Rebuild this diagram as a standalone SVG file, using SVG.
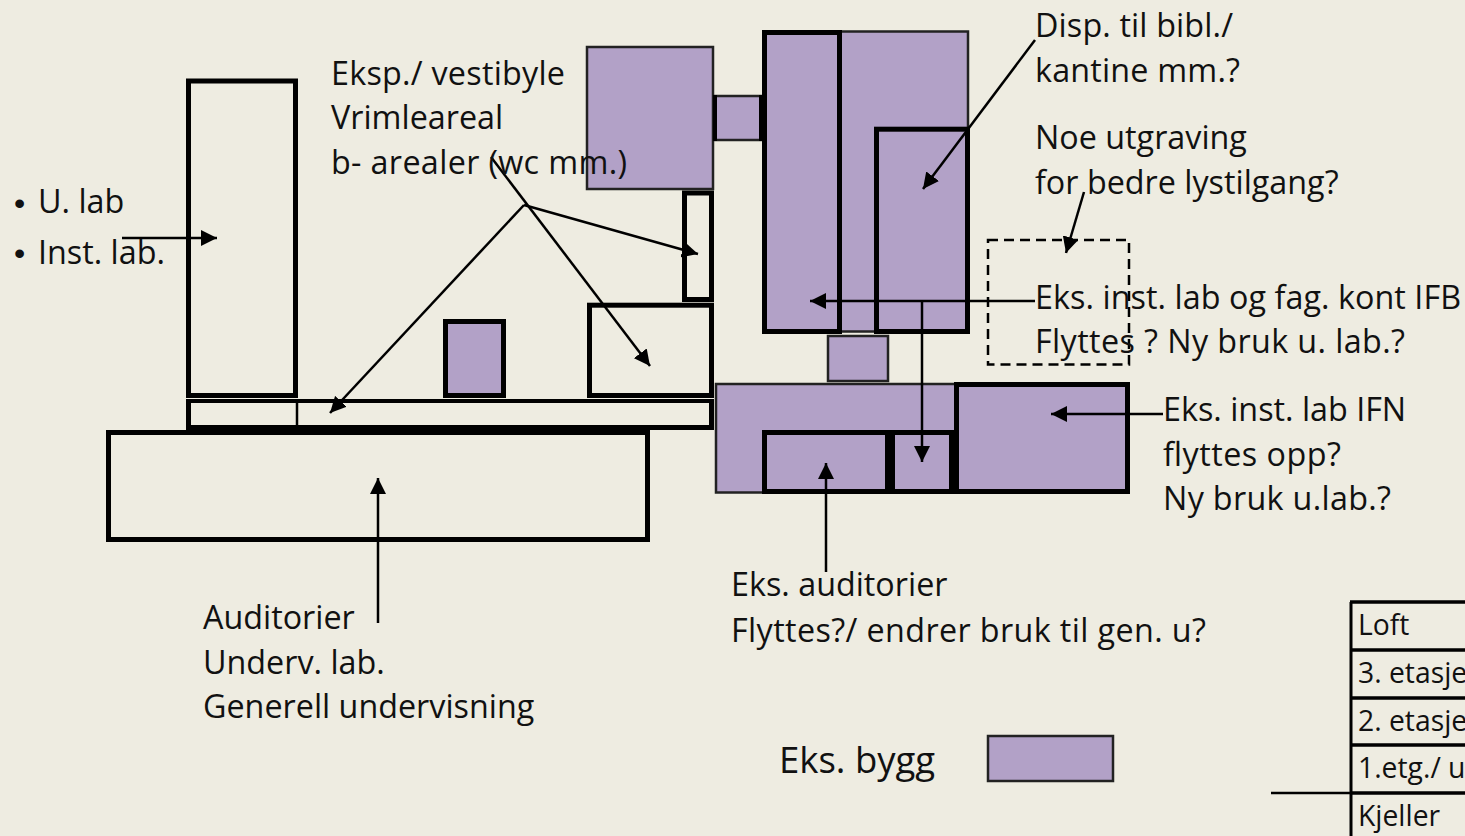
<svg xmlns="http://www.w3.org/2000/svg" width="1465" height="836" viewBox="0 0 1465 836">
<style>
.t{font-family:"Open Sans","Noto Sans",sans-serif;font-size:32.300px;fill:#111}
.s{font-family:"Open Sans","Noto Sans",sans-serif;font-size:28.300px;fill:#111}
.p{fill:#b2a1c7;stroke:#222;stroke-width:2.500}
.pk{fill:#b2a1c7;stroke:#000;stroke-width:5}
.k{fill:none;stroke:#000;stroke-width:5}
.b{fill:#eeece1;stroke:#000;stroke-width:5}
.c{fill:none;stroke:#000;stroke-width:2.500;marker-end:url(#a)}
.l{fill:none;stroke:#000;stroke-width:2.500}
.r{fill:#eeece1;stroke:#000;stroke-width:4}
</style>
<defs><marker id="a" markerUnits="userSpaceOnUse" markerWidth="16" markerHeight="16" refX="16" refY="8" orient="auto"><path d="M0 0L16 8L0 16z" fill="#000"/></marker></defs>
<rect width="1465" height="836" fill="#eeece1"/>
<g id="node-eks-top-left"><rect class="p" x="587" y="47" width="126" height="142"/></g>
<g id="node-link"><rect class="p" x="715" y="96" width="47" height="44"/><path class="l" d="M715 95V141M761 95V141" style="stroke-width:4"/></g>
<g id="node-tower"><rect class="p" x="765" y="31.500" width="203" height="300"/><rect class="pk" x="764.500" y="32.500" width="75" height="299"/><rect class="pk" x="876.500" y="129.200" width="91" height="202.300"/></g>
<g id="node-under"><rect class="p" x="828" y="336" width="60" height="45"/></g>
<g id="node-lower"><rect class="p" x="716" y="384" width="240" height="108.500"/><rect class="pk" x="764.500" y="432.500" width="123" height="59"/><rect class="pk" x="892.500" y="432.500" width="59" height="59"/><path d="M887 462H893M951 462H957" stroke="#000" stroke-width="59" fill="none"/><rect class="pk" x="956.500" y="384.500" width="171" height="107"/></g>
<g id="node-narrow"><rect class="b" x="684.500" y="193" width="27" height="106.500"/></g>
<g id="node-box"><rect class="b" x="589.500" y="305.200" width="122" height="90.300"/></g>
<g id="node-small"><rect class="pk" x="445.500" y="321.500" width="58" height="74"/></g>
<g id="node-tall"><rect class="b" x="188.500" y="81" width="107" height="314.500"/></g>
<g id="node-strip"><rect class="r" x="188" y="401" width="523" height="26"/><path d="M186 427.500H714" class="k"/><path d="M188.500 399V430M711.500 399V430" class="k"/><path d="M297 401V428" class="l"/></g>
<g id="node-auditorium"><rect class="b" x="108.500" y="432.500" width="539" height="107"/></g>
<g id="node-dashed"><rect x="988" y="240" width="141" height="124.500" fill="none" stroke="#000" stroke-width="2.500" stroke-dasharray="10 6"/></g>
<g id="connectors">
<path class="c" d="M122 238H217"/>
<path class="c" d="M1035 40L923 189"/>
<path class="c" d="M1084 192L1066 253"/>
<path class="c" d="M1035 301H810"/>
<path class="c" d="M922 301V462"/>
<path class="c" d="M1163 414H1051"/>
<path class="c" d="M826 572V463"/>
<path class="c" d="M378 623V478"/>
<path class="c" d="M524 205L330 413"/>
<path class="c" d="M524 205L698 254"/>
<path class="c" d="M491 157L650 366"/>
<path class="l" d="M1271 793H1350"/>
</g>
<g id="labels">
<text class="t" x="331" y="85" textLength="234">Eksp./ vestibyle</text>
<text class="t" x="331" y="129">Vrimleareal</text>
<text class="t" x="331" y="174" textLength="296">b- arealer (wc mm.)</text>
<text x="14" y="214" style="font-family:'Liberation Sans',sans-serif;font-size:32px;fill:#111">•</text><text class="t" x="38" y="213">U. lab</text>
<text x="14" y="264" style="font-family:'Liberation Sans',sans-serif;font-size:32px;fill:#111">•</text><text class="t" x="38" y="264">Inst. lab.</text>
<text class="t" x="1035" y="37" textLength="198">Disp. til bibl./</text>
<text class="t" x="1035" y="82" textLength="205">kantine mm.?</text>
<text class="t" x="1035" y="149">Noe utgraving</text>
<text class="t" x="1035" y="194">for bedre lystilgang?</text>
<text class="t" x="1035" y="309" textLength="426">Eks. inst. lab og fag. kont IFB</text>
<text class="t" x="1035" y="353" textLength="370">Flyttes ? Ny bruk u. lab.?</text>
<text class="t" x="1163" y="421">Eks. inst. lab IFN</text>
<text class="t" x="1163" y="466" textLength="178">flyttes opp?</text>
<text class="t" x="1163" y="510" textLength="228">Ny bruk u.lab.?</text>
<text class="t" x="731" y="596">Eks. auditorier</text>
<text class="t" x="731" y="642" textLength="475">Flyttes?/ endrer bruk til gen. u?</text>
<text class="t" x="203" y="629">Auditorier</text>
<text class="t" x="203" y="674">Underv. lab.</text>
<text class="t" x="203" y="718">Generell undervisning</text>
</g>
<g id="legend"><text x="779" y="773" style="font-family:'Open Sans','Noto Sans',sans-serif;font-size:36.500px;fill:#111">Eks. bygg</text><rect class="p" x="988" y="736" width="125" height="45"/></g>
<g id="floors">
<path d="M1351 602V836" class="l" style="stroke-width:3"/>
<path d="M1350 602H1465M1350 650H1465M1350 698H1465M1350 745H1465M1350 793H1465" class="l" style="stroke-width:3.500"/>
<text class="s" x="1358" y="635">Loft</text>
<text class="s" x="1358" y="683">3. etasje</text>
<text class="s" x="1358" y="731">2. etasje</text>
<text class="s" x="1358" y="778">1.etg./ u</text>
<text class="s" x="1358" y="826">Kjeller</text>
</g>
</svg>
